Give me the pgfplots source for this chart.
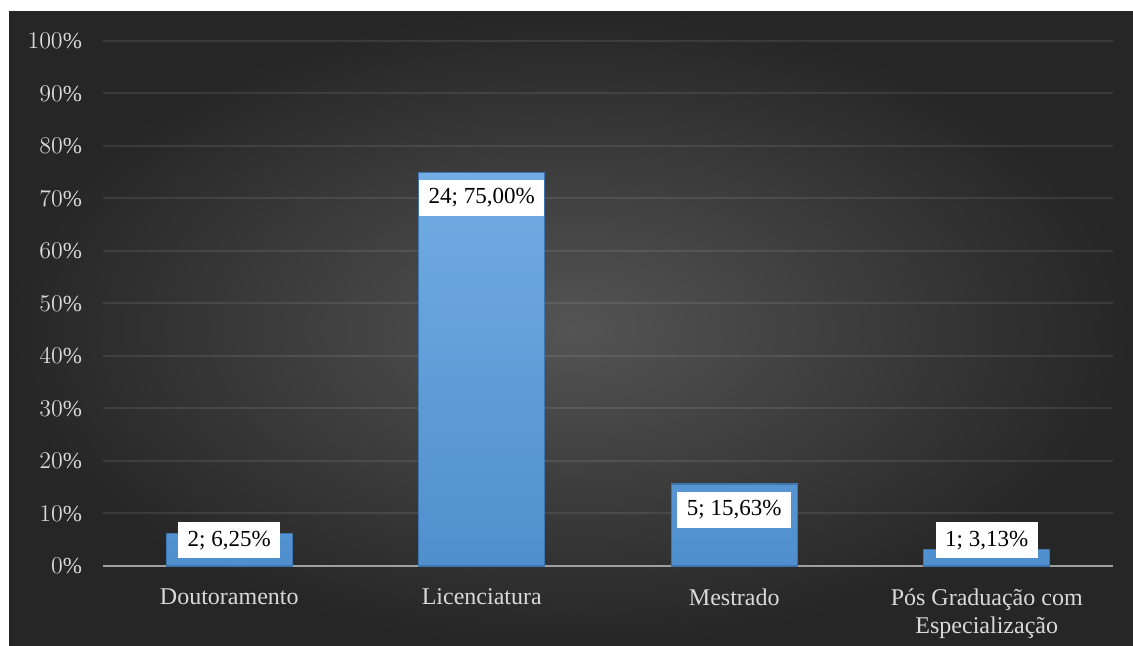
\documentclass[border=0pt]{standalone}
\usepackage{pgfplots}
\pgfplotsset{compat=1.18}
\usepackage{fontspec}
\setmainfont{Liberation Serif}

\definecolor{bgin}{RGB}{84,84,84}
\definecolor{bgout}{RGB}{38,38,38}
\definecolor{tickc}{RGB}{217,217,217}
\definecolor{axc}{RGB}{160,160,160}
\definecolor{bartop}{RGB}{114,172,226}
\definecolor{barbot}{RGB}{80,143,206}
\definecolor{bardraw}{RGB}{62,118,176}

\begin{document}
\begin{tikzpicture}
\useasboundingbox (0,0) rectangle (566.5pt,323pt);
\fill[white] (0,0) rectangle (566.5pt,323pt);
\shade[inner color=bgin, outer color=bgout] (4.5pt,0) rectangle (566.5pt,317pt);
\begin{axis}[
  at={(51.5pt,40pt)}, anchor=south west,
  scale only axis, width=505pt, height=262.5pt,
  xmin=-0.5, xmax=3.5, ymin=0, ymax=100,
  axis lines*=left,
  x axis line style={draw=axc, line width=1pt},
  y axis line style={draw=none},
  major tick length=0pt,
  ytick={0,10,...,100},
  yticklabel={\pgfmathprintnumber{\tick}\%},
  yticklabel style={font=\fontsize{11.5}{14}\selectfont, text=tickc, xshift=-7pt},
  xtick={0,1,2,3},
  xticklabels={Doutoramento, Licenciatura, Mestrado, {Pós Graduação com\\Especialização}},
  xticklabel style={font=\fontsize{12}{14}\selectfont, text=tickc, align=center, yshift=-8pt},
  ymajorgrids, grid style={draw=white, draw opacity=0.09, line width=1pt},
  clip=false,
]
\addplot[ybar, bar width=63pt, top color=bartop, bottom color=barbot, draw=bardraw, line width=0.6pt]
  coordinates {(0,6.25) (1,75) (2,15.63) (3,3.13)};
\tikzset{lbl/.style={fill=white, text=black, font=\fontsize{11.5}{14}\selectfont, inner xsep=4.75pt, inner ysep=3.5pt, text height=8.5pt, text depth=2.5pt}}
\node[lbl] at (axis cs:0,4.95) {2; 6,25\%};
\node[lbl] at (axis cs:1,70.1) {24; 75,00\%};
\node[lbl] at (axis cs:2,10.67) {5; 15,63\%};
\node[lbl] at (axis cs:3,4.86) {1; 3,13\%};
\end{axis}
\end{tikzpicture}
\end{document}
